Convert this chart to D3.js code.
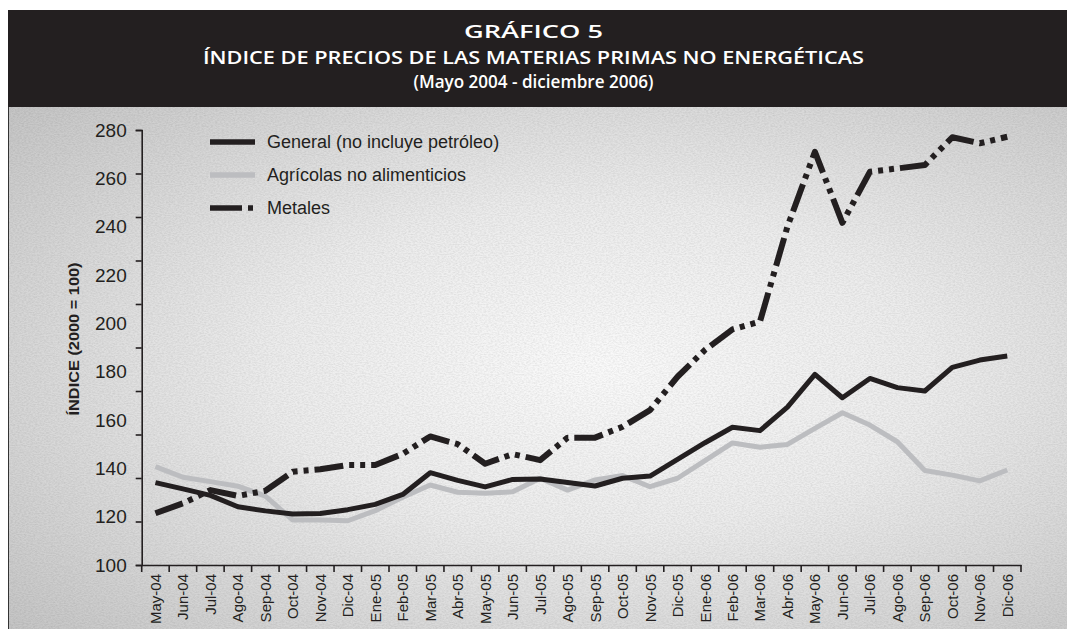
<!DOCTYPE html>
<html>
<head>
<meta charset="utf-8">
<script src="https://cdn.jsdelivr.net/npm/d3@7"></script>
<style>
  body { margin: 0; background: #fff; }
  svg { display: block; }
</style>
</head>
<body>
<svg id="chart"></svg>
<script>
const months = ["May-04","Jun-04","Jul-04","Ago-04","Sep-04","Oct-04","Nov-04","Dic-04",
  "Ene-05","Feb-05","Mar-05","Abr-05","May-05","Jun-05","Jul-05","Ago-05","Sep-05","Oct-05","Nov-05","Dic-05",
  "Ene-06","Feb-06","Mar-06","Abr-06","May-06","Jun-06","Jul-06","Ago-06","Sep-06","Oct-06","Nov-06","Dic-06"];

const general = [134.1, 131.5, 128.8, 124.1, 122.4, 121.1, 121.3, 122.9, 125.1, 129.2, 138.2, 135.0, 132.3, 135.4, 135.6, 134.1,
  132.7, 135.9, 136.8, 143.7, 150.6, 157.0, 155.6, 165.3, 178.9, 169.2, 177.2, 173.4, 172.0, 181.8, 184.8, 186.5];

const agricolas = [140.7, 136.3, 134.5, 132.6, 128.5, 118.6, 118.6, 118.3, 122.5, 128.0, 133.1, 130.1, 129.7, 130.3, 135.9, 131.0,
  135.2, 137.0, 132.4, 135.9, 143.2, 150.5, 148.7, 149.9, 156.5, 163.0, 157.9, 151.0, 139.1, 137.2, 134.8, 139.3];

const metales = [121.4, 125.5, 131.0, 128.6, 130.7, 138.6, 139.6, 141.4, 141.4, 146.0, 153.2, 150.0, 141.9, 145.9, 143.4, 152.7,
  152.7, 157.2, 164.1, 177.9, 189.0, 197.5, 200.7, 240.0, 271.0, 241.6, 262.7, 264.1, 265.5, 277.0, 274.5, 277.2];

const yTicks = [100, 120, 140, 160, 180, 200, 220, 240, 260, 280];

const titleLines = ["GRÁFICO 5", "ÍNDICE DE PRECIOS DE LAS MATERIAS PRIMAS NO ENERGÉTICAS", "(Mayo 2004 - diciembre 2006)"];
const yTitle = "ÍNDICE (2000 = 100)";

const seriesNames = ["General (no incluye petróleo)", "Agrícolas no alimenticios", "Metales"];

const W = 1067, H = 629;
const ink = "#231f20";

const svg = d3.select("#chart").attr("width", W).attr("height", H);

// background paper
const defs = svg.append("defs");
const grad = defs.append("radialGradient").attr("id", "paper")
    .attr("cx", "0.56").attr("cy", "0.5").attr("r", "0.78");
grad.append("stop").attr("offset", "0%").attr("stop-color", "#fafafa");
grad.append("stop").attr("offset", "40%").attr("stop-color", "#ececec");
grad.append("stop").attr("offset", "100%").attr("stop-color", "#c2c2c2");

const noise = defs.append("filter").attr("id", "grain").attr("x", 0).attr("y", 0).attr("width", "100%").attr("height", "100%");
noise.append("feTurbulence").attr("type", "fractalNoise").attr("baseFrequency", "0.45 0.9").attr("numOctaves", 2).attr("seed", 3);
noise.append("feColorMatrix").attr("type", "matrix")
    .attr("values", "0 0 0 0 0  0 0 0 0 0  0 0 0 0 0  0 0 0 -1.1 0.75");

svg.append("rect").attr("x", 8).attr("y", 107).attr("width", W - 8).attr("height", H - 107).attr("fill", "url(#paper)");
svg.append("rect").attr("x", 8).attr("y", 107).attr("width", W - 8).attr("height", H - 107)
    .attr("filter", "url(#grain)").attr("opacity", 0.12);
svg.append("line").attr("x1", 8.5).attr("x2", 8.5).attr("y1", 10).attr("y2", H).attr("stroke", "#333").attr("stroke-width", 1);

// title band
svg.append("rect").attr("x", 8).attr("y", 10).attr("width", W - 8).attr("height", 97).attr("fill", ink);
const titleY = [38, 64, 88];
const titleW = [139, 661, 240];
svg.append("g").selectAll("text").data(titleLines).join("text")
    .attr("x", 533.5).attr("y", (d, i) => titleY[i])
    .attr("text-anchor", "middle")
    .attr("textLength", (d, i) => titleW[i]).attr("lengthAdjust", "spacingAndGlyphs")
    .style("font-family", "'Open Sans', 'DejaVu Sans', sans-serif").style("font-weight", 600)
    .style("font-size", "18.5px").attr("fill", "#fff")
    .text(d => d);

// scales
const x = d3.scaleBand().domain(months).range([141.7, 1021]);
const y = d3.scaleLinear().domain([100, 280]).range([565, 130]);
const tickPos = d3.scaleLinear().domain([0, 10]).range([565, 130]);

const font = "Arial, 'Liberation Sans', Helvetica, sans-serif";

// y axis: tick marks and labels (labels spaced differently from marks, as in the original)
const yAxisG = svg.append("g").attr("transform", "translate(141.7,0)")
    .call(d3.axisLeft(tickPos).ticks(10).tickSize(6).tickFormat(""));
yAxisG.select(".domain").attr("stroke", ink).attr("stroke-width", 1.6);
yAxisG.selectAll(".tick line").attr("stroke", ink).attr("stroke-width", 1.6);

const yLabG = svg.append("g").attr("transform", "translate(141.7,0)")
    .call(d3.axisLeft(y).tickValues(yTicks).tickSize(0).tickPadding(15));
yLabG.select(".domain").remove();
yLabG.selectAll("text").style("font-family", font).style("font-size", "19px").attr("fill", ink);

svg.append("text")
    .attr("transform", "translate(79,339) rotate(-90)")
    .attr("text-anchor", "middle")
    .attr("textLength", 153).attr("lengthAdjust", "spacingAndGlyphs")
    .style("font-family", font).style("font-weight", 700).style("font-size", "14.5px")
    .attr("fill", ink).text(yTitle);

// x axis
const xAxisG = svg.append("g").attr("transform", "translate(0,565)")
    .call(d3.axisBottom(x).tickSize(0).tickSizeOuter(0).tickFormat(""));
xAxisG.select(".domain").attr("stroke", ink).attr("stroke-width", 1.6);

svg.append("g").selectAll("line").data(d3.range(months.length + 1)).join("line")
    .attr("x1", i => x.range()[0] + i * x.step()).attr("x2", i => x.range()[0] + i * x.step())
    .attr("y1", 565).attr("y2", 572)
    .attr("stroke", ink).attr("stroke-width", 1.6);

svg.append("g").selectAll("text").data(months).join("text")
    .attr("transform", d => `translate(${x(d) + x.bandwidth() / 2 + 5.5},574) rotate(-90)`)
    .attr("text-anchor", "end")
    .style("font-family", font).style("font-size", "15px").attr("fill", ink)
    .text(d => d);

// lines
const series = [
  { name: seriesNames[0], values: general, color: ink, width: 5, dash: null },
  { name: seriesNames[1], values: agricolas, color: "#bcbdc0", width: 5, dash: null },
  { name: seriesNames[2], values: metales, color: ink, width: 6, dash: "29,6,5,6,5,6" }
];

const line = d3.line()
    .x((d, i) => x(months[i]) + x.bandwidth() / 2)
    .y(d => y(d));

svg.append("g").selectAll("path").data([series[1], series[0], series[2]]).join("path")
    .attr("d", d => line(d.values))
    .attr("fill", "none")
    .attr("stroke", d => d.color)
    .attr("stroke-width", d => d.width)
    .attr("stroke-dasharray", d => d.dash)
    .attr("stroke-linejoin", "round");

// legend
const legend = svg.append("g").attr("transform", "translate(210,142)");
const li = legend.selectAll("g").data(series).join("g")
    .attr("transform", (d, i) => `translate(0,${i * 33})`);
li.append("line").attr("x1", 0).attr("x2", 45).attr("y1", 0).attr("y2", 0)
    .attr("stroke", d => d.color).attr("stroke-width", 5.5)
    .attr("stroke-dasharray", d => d.dash ? "32,6,5,20" : null);
li.append("text").attr("x", 57).attr("y", 0).attr("dy", "0.36em")
    .style("font-family", font).style("font-size", "18px").attr("fill", ink)
    .text(d => d.name);
</script>
</body>
</html>
